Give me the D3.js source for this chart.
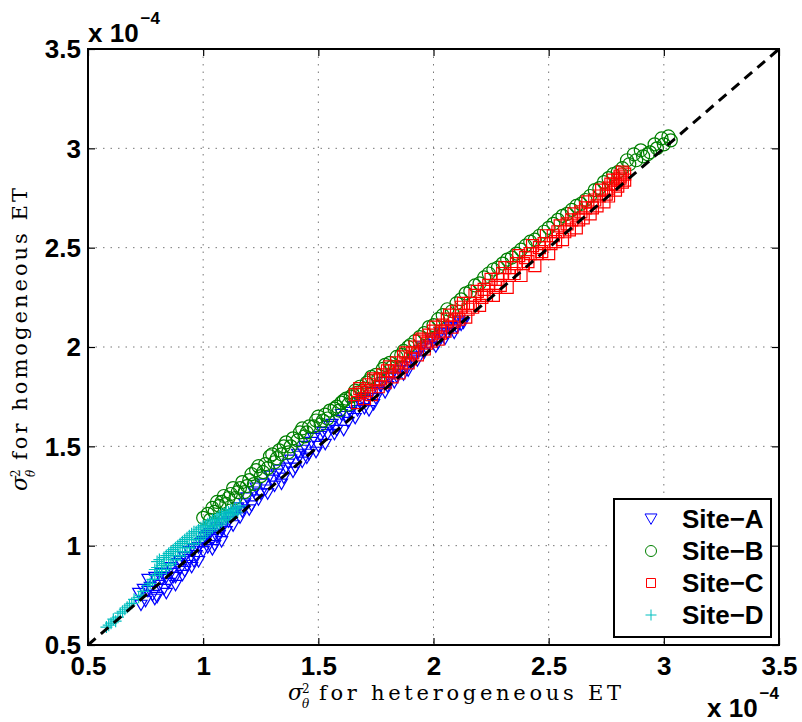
<!DOCTYPE html>
<html>
<head>
<meta charset="utf-8">
<script src="https://cdn.jsdelivr.net/npm/d3@7"></script>
<style>
  body { margin: 0; background: #fff; }
  .tick text { font-family: "Liberation Sans", Arial, sans-serif; font-weight: bold; font-size: 26px; fill: #000; }
  .lab { font-family: "DejaVu Serif", "Liberation Serif", serif; font-size: 21px; fill: #000; }
</style>
</head>
<body>
<div class="canvas"></div>
<script>
// values are in units of 1e-4
const ticks = [0.5, 1, 1.5, 2, 2.5, 3, 3.5];
const siteNames = ['Site\u2212A', 'Site\u2212B', 'Site\u2212C', 'Site\u2212D'];

const siteA = [[0.72,0.76],[0.74,0.78],[0.75,0.72],[0.76,0.83],[0.77,0.79],[0.78,0.75],[0.79,0.84],[0.80,0.74],
  [0.81,0.80],[0.82,0.86],[0.83,0.78],[0.84,0.84],[0.85,0.81],[0.86,0.89],[0.87,0.84],[0.88,0.80],[0.89,0.91],
  [0.90,0.88],[0.91,0.85],[0.92,0.94],[0.93,0.90],[0.94,0.93],[0.95,0.89],[0.96,0.98],[0.97,0.95],[0.98,0.92],
  [0.99,1.01],[1.00,0.97],[1.01,1.04],[1.02,0.99],[1.03,1.06],[1.04,1.03],[1.05,1.00],[1.06,1.09],[1.07,1.05],
  [1.08,1.02],[1.09,1.11],[1.10,1.07],[1.12,1.14],[1.13,1.10],[1.15,1.19],[1.16,1.14],[1.18,1.21],[1.20,1.18],
  [1.22,1.27],[1.24,1.23],[1.26,1.31],[1.28,1.26],[1.29,1.35],[1.31,1.30],[1.33,1.38],[1.35,1.34],[1.37,1.41],
  [1.39,1.37],[1.41,1.46],[1.43,1.42],[1.43,1.48],[1.45,1.44],[1.47,1.52],[1.49,1.47],[1.52,1.57],[1.53,1.51],
  [1.55,1.60],[1.57,1.56],[1.59,1.63],[1.61,1.58],[1.62,1.65],[1.64,1.67],[1.66,1.64],[1.68,1.72],[1.70,1.69],
  [1.72,1.68],[1.73,1.77],[1.75,1.74],[1.77,1.80],[1.79,1.77],[1.81,1.84],[1.83,1.82],[1.85,1.88],[1.87,1.86],
  [1.88,1.90],[1.90,1.92],[1.92,1.95],[1.94,1.98],[1.96,1.97],[1.98,2.01],[2.00,2.03],[2.02,2.02],[2.04,2.06],
  [2.06,2.07],[2.08,2.09],[2.10,2.10],[2.12,2.11],
  [0.73,0.70],[0.76,0.77],[0.79,0.73],[0.82,0.83],[0.84,0.76],[0.86,0.86],[0.88,0.84],[0.90,0.92],[0.92,0.87],
  [0.94,0.97],[0.96,0.92],[0.98,0.99],[1.00,1.02],[1.02,1.05],[1.04,0.98],[1.06,1.04],[1.08,1.08],[1.11,1.12],
  [1.14,1.16],[1.17,1.17],[1.19,1.24],[1.21,1.20],[1.23,1.29],[1.25,1.26],[1.27,1.28],[1.30,1.33],[1.32,1.36],
  [1.34,1.31],[1.36,1.39],[1.38,1.43],[1.40,1.39],[1.42,1.45],[1.44,1.50],[1.46,1.46],[1.48,1.54],[1.50,1.50],
  [1.51,1.55],[1.54,1.56],[1.56,1.61],[1.58,1.58],[1.60,1.66],[1.63,1.62],[1.65,1.70],[1.67,1.68],[1.69,1.74],
  [1.71,1.73],[1.74,1.71],[1.76,1.78],[1.78,1.82],[1.80,1.80],[1.82,1.86],[1.84,1.85],[1.86,1.90],[1.89,1.88],
  [1.91,1.94],[1.93,1.93],[1.95,2.00],[1.97,1.99],[1.99,2.04],[2.01,2.00],[2.03,2.07],[2.05,2.04],[2.07,2.10],
  [2.09,2.07],[2.11,2.13],[2.13,2.12]];

const siteB = [[1.00,1.14],[1.02,1.16],[1.04,1.19],[1.06,1.22],[1.07,1.20],[1.09,1.25],[1.11,1.24],[1.13,1.29],
  [1.15,1.27],[1.17,1.32],[1.19,1.30],[1.21,1.36],[1.23,1.38],[1.25,1.35],[1.27,1.41],[1.29,1.45],[1.31,1.42],
  [1.33,1.48],[1.35,1.50],[1.37,1.47],[1.39,1.54],[1.42,1.57],[1.44,1.55],[1.46,1.60],[1.49,1.63],[1.51,1.61],
  [1.53,1.66],[1.55,1.68],[1.58,1.70],[1.60,1.72],[1.62,1.74],[1.64,1.75],[1.66,1.78],[1.68,1.80],[1.71,1.82],
  [1.73,1.85],[1.75,1.86],[1.78,1.89],[1.81,1.92],[1.84,1.95],[1.87,1.98],[1.90,2.01],[1.94,2.05],[1.98,2.10],
  [2.02,2.14],[2.06,2.19],[2.10,2.22],[2.14,2.27],[2.18,2.31],[2.22,2.35],[2.26,2.39],[2.30,2.42],[2.34,2.45],
  [2.38,2.49],[2.42,2.53],[2.46,2.56],[2.50,2.60],[2.54,2.64],[2.58,2.67],[2.62,2.71],[2.66,2.74],[2.70,2.79],
  [2.74,2.83],[2.78,2.87],[2.82,2.90],[2.85,2.92],[2.88,2.94],[2.91,2.96],[2.94,2.98],[2.97,3.00],[3.00,3.02],
  [3.03,3.04],
  [1.03,1.13],[1.05,1.17],[1.08,1.22],[1.10,1.21],[1.12,1.26],[1.14,1.24],[1.16,1.29],[1.18,1.27],[1.20,1.33],
  [1.22,1.31],[1.24,1.40],[1.26,1.37],[1.28,1.39],[1.30,1.46],[1.32,1.44],[1.34,1.46],[1.36,1.52],[1.38,1.50],
  [1.41,1.53],[1.43,1.59],[1.45,1.57],[1.48,1.60],[1.50,1.65],[1.52,1.63],[1.54,1.64],[1.57,1.69],[1.59,1.68],
  [1.61,1.73],[1.63,1.71],[1.65,1.76],[1.67,1.77],[1.70,1.79],[1.72,1.83],[1.76,1.84],[1.79,1.91],[1.82,1.90],
  [1.86,1.96],[1.89,2.00],[1.92,2.03],[1.96,2.07],[2.00,2.11],[2.04,2.16],[2.08,2.18],[2.12,2.24],[2.16,2.28],
  [2.20,2.32],[2.24,2.37],[2.28,2.40],[2.32,2.44],[2.36,2.47],[2.40,2.51],[2.44,2.54],[2.48,2.58],[2.52,2.62],
  [2.56,2.66],[2.60,2.69],[2.64,2.72],[2.68,2.76],[2.72,2.80],[2.76,2.85],[2.80,2.88],[2.84,2.94],[2.87,2.97],
  [2.90,2.99],[2.93,2.97],[2.96,3.02],[2.99,3.05],[3.02,3.06]];

const siteC = [[1.66,1.76],[1.68,1.79],[1.70,1.74],[1.72,1.81],[1.74,1.84],[1.76,1.80],[1.78,1.86],[1.80,1.88],
  [1.82,1.85],[1.84,1.92],[1.86,1.90],[1.88,1.97],[1.90,1.94],[1.92,2.00],[1.94,2.03],[1.96,1.99],[1.98,2.06],
  [2.00,2.08],[2.02,2.04],[2.04,2.11],[2.06,2.14],[2.08,2.10],[2.10,2.18],[2.12,2.20],[2.14,2.15],[2.16,2.22],
  [2.18,2.26],[2.20,2.21],[2.22,2.29],[2.24,2.31],[2.26,2.26],[2.28,2.34],[2.30,2.37],[2.32,2.30],[2.34,2.40],
  [2.36,2.42],[2.38,2.36],[2.40,2.45],[2.42,2.47],[2.44,2.41],[2.46,2.50],[2.48,2.52],[2.50,2.47],[2.52,2.56],
  [2.54,2.58],[2.56,2.54],[2.58,2.62],[2.60,2.64],[2.62,2.60],[2.64,2.68],[2.66,2.70],[2.68,2.67],[2.70,2.74],
  [2.72,2.76],[2.74,2.73],[2.76,2.80],[2.77,2.82],[2.79,2.79],[2.80,2.84],[2.81,2.86],[2.82,2.83],[2.83,2.87],
  [1.67,1.72],[1.69,1.77],[1.71,1.78],[1.73,1.76],[1.75,1.83],[1.77,1.84],[1.79,1.82],[1.81,1.90],[1.83,1.88],
  [1.85,1.87],[1.87,1.95],[1.89,1.92],[1.91,1.97],[1.93,1.96],[1.95,2.04],[1.97,2.02],[1.99,2.03],[2.01,2.10],
  [2.03,2.07],[2.05,2.08],[2.07,2.16],[2.09,2.13],[2.11,2.14],[2.13,2.22],[2.15,2.19],[2.17,2.20],[2.19,2.28],
  [2.21,2.25],[2.23,2.26],[2.25,2.34],[2.27,2.30],[2.29,2.31],[2.31,2.40],[2.33,2.36],[2.35,2.37],[2.37,2.46],
  [2.39,2.42],[2.41,2.43],[2.43,2.51],[2.45,2.47],[2.47,2.48],[2.49,2.56],[2.51,2.52],[2.53,2.53],[2.55,2.61],
  [2.57,2.58],[2.59,2.59],[2.61,2.67],[2.63,2.64],[2.65,2.65],[2.67,2.73],[2.69,2.70],[2.71,2.71],[2.73,2.79],
  [2.75,2.77],[2.76,2.76],[2.78,2.84],[2.79,2.82],[2.80,2.81],[2.81,2.85],[2.82,2.88],[2.83,2.84]];

const siteD = [[0.58,0.59],[0.60,0.61],[0.61,0.63],[0.63,0.64],[0.64,0.66],[0.66,0.68],[0.67,0.69],[0.69,0.71],
  [0.72,0.74],[0.74,0.77],[0.76,0.80],[0.78,0.83],[0.79,0.88],[0.80,0.92],[0.81,0.86],[0.82,0.90],[0.83,0.94],
  [0.84,0.88],[0.85,0.96],[0.86,0.91],[0.87,0.98],[0.88,0.93],[0.89,1.00],[0.90,0.95],[0.91,1.02],[0.92,0.97],
  [0.93,1.04],[0.94,0.99],[0.95,1.06],[0.96,1.01],[0.97,1.07],[0.98,1.03],[0.99,1.09],[1.00,1.05],[1.01,1.10],
  [1.02,1.07],[1.03,1.12],[1.04,1.09],[1.05,1.13],[1.06,1.10],[1.07,1.15],[1.08,1.12],[1.09,1.16],[1.10,1.13],
  [1.11,1.17],[1.12,1.15],[1.13,1.18],[1.14,1.16],[1.15,1.19],
  [0.59,0.60],[0.62,0.62],[0.65,0.67],[0.68,0.70],[0.70,0.73],[0.73,0.75],[0.77,0.81],[0.79,0.85],[0.80,0.89],
  [0.81,0.93],[0.82,0.87],[0.83,0.91],[0.84,0.95],[0.85,0.90],[0.86,0.97],[0.87,0.93],[0.88,0.99],[0.89,0.95],
  [0.90,1.01],[0.91,0.97],[0.92,1.03],[0.93,0.99],[0.94,1.05],[0.95,1.01],[0.96,1.07],[0.97,1.03],[0.98,1.08],
  [0.99,1.04],[1.00,1.10],[1.01,1.06],[1.02,1.11],[1.03,1.08],[1.04,1.13],[1.05,1.10],[1.06,1.14],[1.07,1.11],
  [1.08,1.16],[1.09,1.13],[1.10,1.17],[1.11,1.14],[1.12,1.18],[1.13,1.16],[1.14,1.19],[1.15,1.17],[1.16,1.20]];

const dims = { width: 802, height: 722 };
const plot = { left: 88, right: 779, top: 49, bottom: 645 };

const x = d3.scaleLinear().domain([0.5, 3.5]).range([plot.left, plot.right]);
const y = d3.scaleLinear().domain([0.5, 3.5]).range([plot.bottom, plot.top]);

// marker shapes, centred on 0,0
const shapes = {
  tri: s => `M${-s / 2},${-s * 0.42}L${s / 2},${-s * 0.42}L0,${s * 0.45}Z`,
  circle: s => `M${s / 2},0A${s / 2},${s / 2} 0 1,1 ${-s / 2},0A${s / 2},${s / 2} 0 1,1 ${s / 2},0Z`,
  square: s => `M${-s / 2},${-s / 2}h${s}v${s}h${-s}Z`,
  plus: s => `M${-s / 2},0H${s / 2}M0,${-s / 2}V${s / 2}`
};

const series = [
  { name: siteNames[0], data: siteA, shape: 'tri', color: '#0000ff', size: 12, legendSize: 12 },
  { name: siteNames[1], data: siteB, shape: 'circle', color: '#008000', size: 13, legendSize: 11 },
  { name: siteNames[2], data: siteC, shape: 'square', color: '#ff0000', size: 12, legendSize: 9 },
  { name: siteNames[3], data: siteD, shape: 'plus', color: '#00bfbf', size: 12, legendSize: 11 }
];

const svg = d3.select('.canvas')
  .append('svg')
  .attr('width', dims.width)
  .attr('height', dims.height);

// grid
const inner = ticks.slice(1, -1);
svg.append('g').selectAll('line.gx')
  .data(inner).enter().append('line')
  .attr('x1', d => x(d)).attr('x2', d => x(d))
  .attr('y1', plot.top).attr('y2', plot.bottom)
  .attr('stroke', '#777').attr('stroke-width', 1).attr('stroke-dasharray', '1.5,6');
svg.append('g').selectAll('line.gy')
  .data(inner).enter().append('line')
  .attr('y1', d => y(d)).attr('y2', d => y(d))
  .attr('x1', plot.left).attr('x2', plot.right)
  .attr('stroke', '#777').attr('stroke-width', 1).attr('stroke-dasharray', '1.5,6');

// scatter points
series.forEach(s => {
  svg.append('g').selectAll('path')
    .data(s.data).enter().append('path')
    .attr('d', shapes[s.shape](s.size))
    .attr('transform', d => `translate(${x(d[0])},${y(d[1])})`)
    .attr('fill', 'none')
    .attr('stroke', s.color)
    .attr('stroke-width', 1.2);
});

// 1:1 line
svg.append('line')
  .attr('x1', x(0.5)).attr('y1', y(0.5))
  .attr('x2', x(3.5)).attr('y2', y(3.5))
  .attr('stroke', '#000').attr('stroke-width', 3)
  .attr('stroke-dasharray', '10,7');

// axes (ticks inward, box on)
const fmt = d3.format('~g');
const xAxis = svg.append('g')
  .attr('transform', `translate(0,${plot.bottom})`)
  .call(d3.axisBottom(x).tickValues(ticks).tickSize(-7).tickFormat(fmt));
xAxis.selectAll('text').attr('y', 30).attr('dy', 0);

const yAxis = svg.append('g')
  .attr('transform', `translate(${plot.left},0)`)
  .call(d3.axisLeft(y).tickValues(ticks).tickSize(-7).tickFormat(fmt));
yAxis.selectAll('text').attr('x', -7).attr('dy', '0.34em');

svg.append('g')
  .attr('transform', `translate(0,${plot.top})`)
  .call(d3.axisTop(x).tickValues(ticks).tickSize(-7).tickFormat(''));
svg.append('g')
  .attr('transform', `translate(${plot.right},0)`)
  .call(d3.axisRight(y).tickValues(ticks).tickSize(-7).tickFormat(''));

svg.selectAll('.domain').remove();
svg.selectAll('.tick line').attr('stroke', '#000').attr('stroke-width', 1.2);

svg.append('rect')
  .attr('x', plot.left).attr('y', plot.top)
  .attr('width', plot.right - plot.left).attr('height', plot.bottom - plot.top)
  .attr('fill', 'none').attr('stroke', '#000').attr('stroke-width', 2);

// exponent labels
const expo = (gx, gy) => {
  const t = svg.append('text')
    .attr('x', gx).attr('y', gy)
    .style('font-family', '"Liberation Sans", Arial, sans-serif')
    .style('font-weight', 'bold');
  t.append('tspan').style('font-size', '26px').text('x 10');
  t.append('tspan').style('font-size', '17px').attr('dx', 2).attr('dy', -18).text('\u22124');
};
expo(88, 42);
expo(707, 717);

// legend
const legend = svg.append('g').attr('transform', 'translate(614,499)');
legend.append('rect')
  .attr('width', 157).attr('height', 138)
  .attr('fill', '#fff').attr('stroke', '#000').attr('stroke-width', 2);
const rows = legend.selectAll('g.row')
  .data(series).enter().append('g')
  .attr('transform', (d, i) => `translate(0,${20 + i * 32})`);
rows.append('path')
  .attr('transform', 'translate(37,0)')
  .attr('d', d => shapes[d.shape](d.legendSize))
  .attr('fill', 'none').attr('stroke', d => d.color).attr('stroke-width', 1);
rows.append('text')
  .attr('x', 68).attr('y', 9)
  .style('font-family', '"Liberation Sans", Arial, sans-serif')
  .style('font-weight', 'bold').style('font-size', '26px')
  .text(d => d.name);

// axis labels: sigma_theta^2 for ...
const mathLabel = (g, rest, len) => {
  g.append('text').attr('class', 'lab').attr('x', 0).attr('y', 0)
    .style('font-style', 'italic').style('font-size', '22px').text('\u03c3');
  g.append('text').attr('class', 'lab').attr('x', 14).attr('y', -7)
    .style('font-size', '12px').text('2');
  g.append('text').attr('class', 'lab').attr('x', 14).attr('y', 8)
    .style('font-size', '12px').style('font-style', 'italic').text('\u03b8');
  g.append('text').attr('class', 'lab').attr('x', 31).attr('y', 0)
    .attr('textLength', len).attr('lengthAdjust', 'spacing').text(rest);
};
mathLabel(svg.append('g').attr('transform', 'translate(288,700)'), 'for heterogeneous ET', 302);
mathLabel(svg.append('g').attr('transform', 'translate(27,491) rotate(-90)'), 'for homogeneous ET', 272);
</script>
</body>
</html>
